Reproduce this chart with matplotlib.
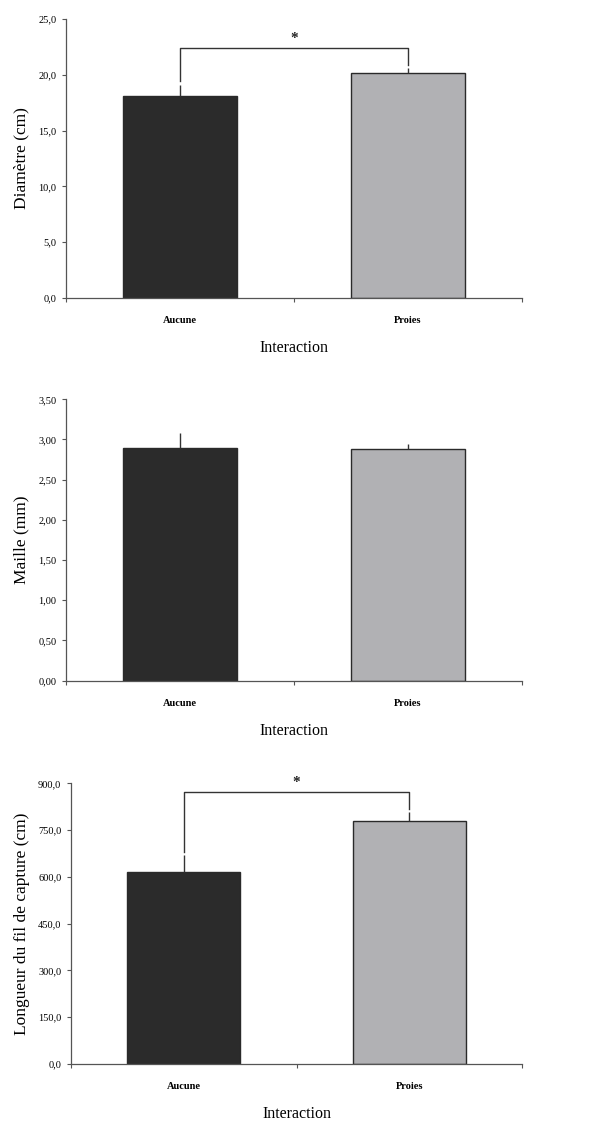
import matplotlib
matplotlib.use("Agg")
import matplotlib.pyplot as plt
import numpy as np

# group means and (upper) standard errors
categories = ["Aucune", "Proies"]

diametre = [18.1, 20.2]
diametre_err = [1.0, 0.4]

maille = [2.89, 2.88]
maille_err = [0.19, 0.06]

longueur = [615.0, 780.0]
longueur_err = [55.0, 27.0]

panels = [
    # values, errors, ylabel, ymax, step, decimals, significant
    (diametre, diametre_err, "Diamètre (cm)", 25.0, 5.0, 1, True),
    (maille, maille_err, "Maille (mm)", 3.5, 0.5, 2, False),
    (longueur, longueur_err, "Longueur du fil de capture (cm)", 900.0, 150.0, 1, True),
]

# axes rectangles in figure fractions
rects = [
    [0.1115, 0.7342, 0.7703, 0.2489],
    [0.1115, 0.3928, 0.7703, 0.2510],
    [0.1200, 0.0508, 0.7618, 0.2504],
]

BAR_COLORS = ["#2b2b2b", "#b1b1b4"]
EDGE = "#2a2a2a"
AXIS = "#555555"

plt.rcParams["font.family"] = ["Liberation Serif", "DejaVu Serif"]

fig = plt.figure(figsize=(5.92, 11.21), dpi=100)

for (vals, errs, ylab, ymax, step, dec, sig), rect in zip(panels, rects):
    ax = fig.add_axes(rect)
    x = np.arange(len(categories)) + 0.5
    ax.bar(x, vals, width=0.5, color=BAR_COLORS, edgecolor=EDGE, linewidth=1.0, zorder=2)
    ax.errorbar(x, vals, yerr=[np.zeros(len(vals)), errs], fmt="none",
                ecolor="#333333", elinewidth=1.0, capsize=0, zorder=3)

    ax.set_xlim(0, 2)
    ax.set_ylim(0, ymax)
    ticks = np.arange(0, ymax + step / 2, step)
    ax.set_yticks(ticks)
    ax.set_yticklabels([f"{t:.{dec}f}".replace(".", ",") for t in ticks], fontsize=7.5)

    ax.set_xticks([0, 1, 2])
    ax.set_xticklabels(["", "", ""])
    ax.set_xticks(x, minor=True)
    ax.set_xticklabels(categories, minor=True, fontsize=7.5, fontweight="bold")
    ax.tick_params(axis="x", which="minor", length=0, pad=13)
    ax.tick_params(axis="both", which="major", length=3, width=0.8, color=AXIS, direction="out")
    ax.tick_params(axis="y", pad=4)

    for side in ("top", "right"):
        ax.spines[side].set_visible(False)
    for side in ("left", "bottom"):
        ax.spines[side].set_color(AXIS)
        ax.spines[side].set_linewidth(0.9)

    ax.set_ylabel(ylab, fontsize=12.5, labelpad=6)
    ax.set_xlabel("Interaction", fontsize=11.5, labelpad=11)

    if sig:
        tops = np.array(vals) + np.array(errs)
        bracket_y = tops.max() + 0.072 * ymax
        gap = 0.012 * ymax
        ax.plot([x[0], x[0], x[1], x[1]],
                [tops[0] + gap, bracket_y, bracket_y, tops[1] + gap],
                color="#333333", linewidth=1.0, zorder=3)
        ax.text(x.mean(), bracket_y + 0.01 * ymax, "*", ha="center", va="bottom",
                fontsize=11, fontweight="bold", color="#222222")

fig.savefig("out.png", dpi=100)
